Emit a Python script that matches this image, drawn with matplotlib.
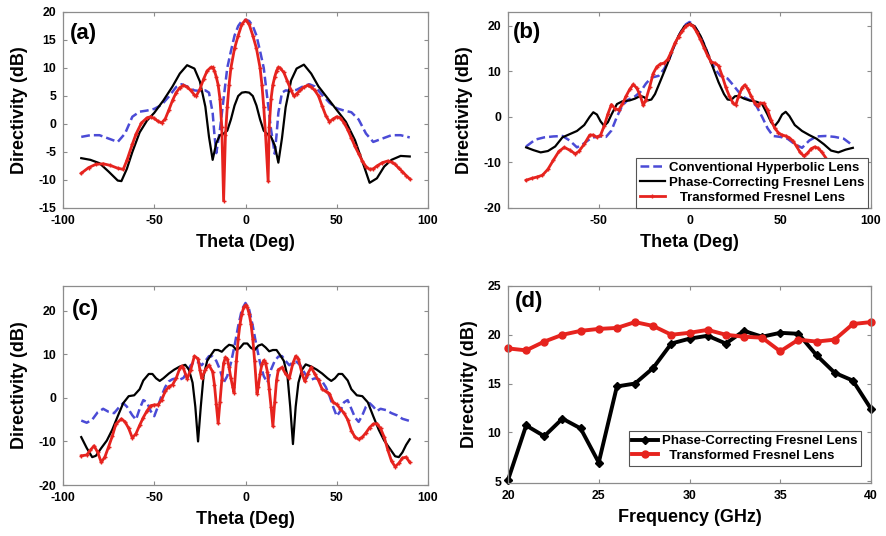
import matplotlib
matplotlib.use("Agg")
import matplotlib.pyplot as plt

plt.rcParams['font.family'] = ['Liberation Sans', 'DejaVu Sans']
plt.rcParams['font.weight'] = 'bold'
plt.rcParams['axes.labelweight'] = 'bold'
plt.rcParams['axes.unicode_minus'] = False

# ---------------- data: panel (a) ----------------
A_blk_theta = [-90,-85,-80,-75,-70,-68,-65,-62,-58,-54,-50,-45,-40,-36,-32,-28,-25,-22,-20,-18,-16,-14,-12,-10,-8,-6,-4,-2,0,
               2,4,6,8,10,12,14,16,18,20,22,25,28,32,36,40,45,50,55,60,65,68,72,76,80,85,90]
A_blk_val = [-6.1,-6.4,-7.0,-8.5,-10.1,-10.2,-8.0,-5.0,-1.5,0.6,2.0,4.2,6.7,9.0,10.5,9.9,7.6,3.1,-2.3,-6.4,-3.4,-2.0,-1.7,-1.2,0.8,3.3,5.0,5.6,5.7,
             5.6,5.0,3.3,0.8,-1.2,-1.8,-2.3,-3.8,-6.9,-2.5,3.0,7.8,9.9,10.6,9.0,6.7,4.6,2.5,0.4,-2.9,-7.6,-10.5,-9.7,-7.6,-6.4,-5.7,-5.8]

A_blu_theta = [-90,-85,-80,-75,-70,-66,-62,-58,-54,-50,-46,-42,-38,-35,-32,-28,-25,-22,-20,-18,-17,-16,-14,-12,-10,-8,-6,-4,-2,0,
               2,4,6,8,10,12,14,16,17,18,20,22,25,28,32,35,38,42,46,50,54,58,62,66,70,75,80,85,90]
A_blu_val = [-2.3,-2.0,-2.0,-2.6,-3.2,-1.7,1.3,2.2,2.4,2.7,3.4,4.9,6.6,7.1,6.7,6.0,5.9,6.0,5.6,2.0,-2.0,-5.2,-1.0,4.5,10.0,13.0,15.8,17.5,18.4,18.6,
             18.4,17.5,15.8,13.0,10.0,4.5,-1.0,-5.3,-2.0,2.0,5.6,6.0,5.9,6.1,6.8,7.1,6.7,5.2,3.8,2.8,2.4,2.1,0.8,-1.7,-3.2,-2.6,-2.0,-2.0,-2.4]

A_red_theta = [-90,-86,-82,-78,-74,-70,-67,-65,-62,-60,-57,-54,-52,-50,-48,-46,-44,-42,-40,-38,-36,-34,-32,-30,-28,-27,-25,-23,-21,-19,
               -18,-17,-16,-15,-14,-13,-12,-11,-10,-9,-8,-6,-4,-2,0,2,4,6,8,9,10,11,12.4,13,14,15,16,17,18,19,
               21,23,25,26.5,28,30,32,34,36,38,40,42,44,46,48,50,52,54,56,58,60,62,64,66,68,70,72,75,78,80,82,84,86,88,90]
A_red_val = [-8.8,-7.8,-7.2,-7.1,-7.4,-7.9,-8.1,-6.5,-3.6,-1.8,0.2,1.1,1.3,1.0,0.5,0.2,0.9,2.5,4.2,5.6,6.5,6.9,6.6,6.0,5.2,5.0,6.2,8.0,9.5,10.1,
             10.1,9.5,8.4,7.0,4.5,-0.5,-13.7,-2.0,3.0,7.0,10.0,13.5,15.8,17.8,18.6,17.8,15.8,13.5,10.0,7.0,3.0,-2.0,-10.2,-0.5,4.5,7.0,8.4,9.5,10.1,10.0,
             9.2,7.6,6.0,5.0,5.4,6.0,6.6,6.9,6.6,6.0,5.0,3.2,1.5,0.4,0.9,1.3,1.1,0.2,-1.0,-2.5,-4.0,-5.3,-6.6,-7.6,-8.1,-8.0,-7.5,-6.9,-6.6,-6.8,-7.2,-7.9,-8.5,-9.2,-9.8]

# ---------------- data: panel (b) ----------------
B_blu_theta = [-90,-85,-80,-75,-70,-66,-62,-58,-54,-50,-46,-43,-40,-37,-34,-30,-27,-24,-21,-17,-14,-11,-8,-5,-2,0,
               2,5,8,11,14,17,21,24,27,30,34,37,40,43,46,50,54,58,62,66,70,75,80,85,90]
B_blu_val = [-6.5,-5.0,-4.5,-4.3,-4.2,-5.2,-6.7,-5.8,-4.6,-4.3,-4.4,-3.0,0.0,2.5,3.7,4.5,5.5,7.3,8.6,9.0,10.5,12.8,16.0,18.5,20.3,20.8,
             20.3,18.5,16.0,13.0,10.5,9.0,8.4,7.0,5.5,4.3,3.5,2.3,0.0,-2.5,-4.2,-4.4,-4.8,-6.0,-6.8,-5.2,-4.3,-4.2,-4.4,-4.8,-6.3]

B_blk_theta = [-90,-86,-82,-78,-74,-70,-66,-62,-58,-55,-53,-51,-49,-47,-45,-43,-40,-37,-33,-30,-27,-25,-23,-21,-19,-16,-12,-9,-6,-3,0,
               3,6,9,12,16,19,21,23,25,27,30,33,37,40,43,45,47,49,51,53,55,58,62,66,70,74,78,82,86,90]
B_blk_val = [-6.7,-7.3,-7.8,-7.5,-6.5,-4.5,-3.8,-3.1,-1.8,0.0,1.0,0.5,-1.0,-2.0,-1.2,0.5,2.8,3.4,3.6,4.0,4.6,4.3,3.6,3.8,5.0,7.9,11.8,15.0,17.8,19.8,20.5,
             19.8,17.8,15.0,11.8,7.6,5.0,3.8,3.7,4.5,4.6,4.0,3.6,3.3,2.8,0.5,-1.2,-2.0,-1.0,0.5,1.1,0.2,-1.8,-3.1,-4.0,-4.8,-6.0,-7.4,-7.8,-7.2,-6.8]

B_red_theta = [-90,-87,-84,-81,-78,-75,-72,-69,-66,-63,-61,-58,-55,-53,-51,-49,-47,-45,-43,-41,-39,-37,-35,-33,-31,-29,-27,-25.5,-24,-22,
               -20,-18,-16,-14,-12,-10,-8,-6,-4,-2,0,2,4,6,8,10,12,14,16,18,20,22,24,25.5,27,29,30.5,32,34,36,37.5,
               39,41,43,45,47,49,51,53,55,57,59,61,63,65,67,69,71,73,76,80,84,87,90]
B_red_val = [-13.9,-13.5,-13.2,-12.8,-11.5,-9.5,-7.6,-6.7,-7.3,-8.1,-7.6,-6.0,-4.0,-4.0,-4.5,-4.0,-2.0,0.6,2.7,1.8,1.5,2.8,4.5,6.0,7.1,6.3,4.5,2.5,3.8,6.5,
             9.5,11.0,11.6,11.8,12.6,14.3,16.2,17.6,18.8,19.9,20.3,19.9,18.6,17.0,15.2,13.4,12.0,11.8,11.2,9.0,6.5,4.5,3.0,2.6,4.5,6.4,7.0,6.2,4.5,3.0,2.3,
             3.0,3.0,1.5,-0.8,-2.5,-3.5,-4.0,-4.2,-4.6,-5.3,-6.5,-7.8,-8.6,-8.0,-7.0,-6.6,-6.9,-7.8,-9.5,-11.5,-12.8,-13.3,-13.8]

# ---------------- data: panel (c) ----------------
C_blu_theta = [-90,-87,-84,-81,-78,-75,-72,-69,-67,-65,-62,-60,-58,-56,-54,-52,-50,-48,-46,-44,-42,-40,-38,-36,-34,
               -32,-30,-28,-26,-24,-22,-20,-18,-16,-14,-12,-10,-8,-6,-4,-2,0] + \
              [2,4,6,8,10,12,14,16,18,20,22,24,26,28,30,32,34,36,38,40,42,44,46,48,50,52,54,56,58,60,62,64,66,68,70,72,74,77,80,83,86,90]
C_blu_val = [-5.2,-5.7,-5.0,-3.3,-2.5,-3.2,-3.5,-2.0,-1.2,-2.0,-4.0,-5.0,-2.5,-0.5,-1.0,-3.0,-4.2,-2.0,0.5,2.5,3.8,4.3,4.5,4.2,4.6,
             6.0,7.5,8.3,8.2,7.5,8.5,9.6,9.5,8.5,6.5,3.5,5.0,8.0,12.0,16.5,20.3,21.8] + \
            [20.3,16.5,12.0,8.0,5.0,3.5,6.5,8.5,9.5,9.6,8.5,7.5,8.2,8.3,7.5,6.0,4.6,4.2,4.5,4.3,3.8,2.5,0.5,-2.0,-4.2,
             -3.0,-1.0,-0.5,-2.5,-4.5,-5.5,-4.0,-2.0,-1.2,-2.0,-3.0,-2.5,-2.8,-3.5,-4.0,-4.8,-5.3]

C_blk_theta = [-90,-87,-84,-82,-79,-76,-73,-70,-67,-64,-61,-58,-56,-53,-51,-49,-47,-45,-42,-39,-36,-33,-31,-29,-27.5,
               -26,-24.5,-23,-21,-19,-17,-15,-13,-11,-9,-7,-5,-3,-1,0,1,3,5,7,9,11,13,15,17,19,
               21,23,24.5,26,27.5,29,31,33,36,39,42,45,47,49,51,53,56,58,61,64,67,70,73,76,79,82,84,86,88,90]
C_blk_val = [-9.0,-11.5,-13.6,-13.3,-11.5,-9.8,-7.3,-4.2,-1.2,0.4,0.6,2.0,4.0,5.5,5.5,4.5,3.9,4.5,5.6,6.5,7.2,7.6,6.5,3.5,-2.0,
             -10.0,-2.0,5.0,8.5,9.8,11.0,11.0,10.6,11.5,12.2,12.0,11.0,11.5,12.5,12.5,12.5,11.5,11.0,12.0,12.3,11.6,10.7,11.0,11.0,9.8,
             8.5,5.0,-2.0,-10.6,-2.0,3.5,6.5,7.7,7.2,6.5,5.6,4.5,3.9,4.5,5.5,5.5,4.0,2.0,0.6,0.4,-1.0,-4.2,-7.3,-9.8,-11.6,-13.4,-13.6,-12.5,-10.8,-9.5]

C_red_theta = [-90,-87,-85,-83,-81,-79,-77,-75,-73,-71,-68,-66,-64,-62,-60,-58,-56,-54,-52,-50,-48,-46,-44,-42,-40,
               -38,-36,-35,-34,-32,-30,-28,-26,-25,-24,-22,-20,-18,-17,-16,-15,-14,-13,-12,-11,-10,-9,-8,-7,-6.3,
               -5,-4,-3,-2,-1,0] + \
              [1,2,3,4,5,6.3,7,8,9,10,11,12,13,14,15,16,17,18,20,22,24,26,27.5,29,31,32.5,34,36,38,40,
               42,44,46,48,50,52,54,56,58,60,62,64,66,68,70,72,74,76,78,80,82,84,86,88,90]
C_red_val = [-13.3,-13.1,-12.0,-11.0,-12.5,-14.8,-13.5,-11.2,-8.8,-6.0,-4.8,-5.5,-7.0,-9.2,-8.2,-6.3,-4.5,-3.0,-1.8,-1.6,-1.6,-0.5,1.5,2.6,3.0,
             4.5,6.8,7.3,6.8,4.4,6.5,9.6,9.0,6.5,4.5,6.5,7.5,6.0,3.0,-1.5,-5.8,-1.0,4.0,8.0,9.3,9.0,7.0,4.5,2.5,1.2,
             8.5,13.5,17.0,19.3,20.8,21.3] + \
            [20.8,19.3,17.0,13.5,8.5,1.0,2.5,5.5,7.8,8.6,8.0,6.0,2.0,-2.0,-6.5,-1.0,4.0,6.5,7.0,5.5,4.5,8.0,9.6,9.0,5.5,3.8,5.5,7.0,5.5,4.0,
             2.0,1.5,1.0,-1.0,-1.5,-2.5,-3.5,-5.0,-7.5,-9.0,-9.5,-9.0,-8.0,-6.8,-6.0,-5.9,-7.0,-9.0,-12.0,-14.5,-15.8,-15.0,-13.8,-13.6,-14.8]

# ---------------- data: panel (d) ----------------
D_freq = [20,21,22,23,24,25,26,27,28,29,30,31,32,33,34,35,36,37,38,39,40]
D_blk_val = [5.1,10.7,9.6,11.4,10.4,6.9,14.7,15.0,16.6,19.1,19.6,19.9,19.1,20.4,19.8,20.2,20.1,17.9,16.1,15.3,12.4]
D_red_val = [18.6,18.4,19.3,20.0,20.4,20.6,20.7,21.3,20.9,20.0,20.2,20.5,20.0,19.8,19.7,18.3,19.5,19.3,19.5,21.1,21.3]

LBL_CONV = "Conventional Hyperbolic Lens"
LBL_PHASE = "Phase-Correcting Fresnel Lens"
LBL_TRANS = "Transformed Fresnel Lens"

BLUE = '#4b4bd6'
RED = '#e6231e'
BLACK = '#000000'
GRID = '#8c8c8c'

W, H = 886, 536
fig = plt.figure(figsize=(W / 100, H / 100), dpi=100)
fig.patch.set_facecolor('white')


def mk_axes(l, t, r, b):
    return fig.add_axes([l / W, 1 - b / H, (r - l) / W, (b - t) / H])


def style(ax, xlabel):
    for s in ax.spines.values():
        s.set_color(GRID)
        s.set_linewidth(0.9)
    ax.tick_params(direction='in', length=3, color=GRID, top=True, right=True,
                   labelsize=8.8, pad=5, labelcolor='black')
    for lab in ax.get_xticklabels() + ax.get_yticklabels():
        lab.set_fontweight('bold')
    ax.set_xlabel(xlabel, fontsize=13, fontweight='bold', labelpad=5)
    ax.set_ylabel('Directivity (dB)', fontsize=13, fontweight='bold', labelpad=7)


def tag(ax, txt, x, y):
    ax.text(x, y, txt, transform=ax.transAxes, fontsize=16, fontweight='bold',
            ha='left', va='center')


def blue(ax, t, v):
    return ax.plot(t, v, color=BLUE, lw=1.8, dashes=(3.5, 1.6), label=LBL_CONV)[0]


def black(ax, t, v):
    return ax.plot(t, v, color=BLACK, lw=1.6, label=LBL_PHASE)[0]


def red(ax, t, v):
    return ax.plot(t, v, color=RED, lw=2.0, marker='+', ms=3.5, mew=1.0,
                   label='   ' + LBL_TRANS)[0]


theta_ticks = [-100, -50, 0, 50, 100]

# (a)
axa = mk_axes(63, 12, 428, 208)
blue(axa, A_blu_theta, A_blu_val)
black(axa, A_blk_theta, A_blk_val)
red(axa, A_red_theta, A_red_val)
axa.set_xlim(-100, 100)
axa.set_ylim(-15, 20)
axa.set_xticks(theta_ticks)
axa.set_yticks([-15, -10, -5, 0, 5, 10, 15, 20])
style(axa, 'Theta (Deg)')
tag(axa, '(a)', 0.018, 0.89)

# (b)
axb = mk_axes(508, 12, 871, 208)
h1 = blue(axb, B_blu_theta, B_blu_val)
h2 = black(axb, B_blk_theta, B_blk_val)
h3 = red(axb, B_red_theta, B_red_val)
axb.set_xlim(-100, 100)
axb.set_ylim(-20, 23)
axb.set_xticks(theta_ticks)
axb.set_xticklabels(['', '-50', '0', '50', '100'])
axb.set_yticks([-20, -10, 0, 10, 20])
style(axb, 'Theta (Deg)')
tag(axb, '(b)', 0.014, 0.895)
leg = axb.legend(handles=[h1, h2, h3], loc='lower right', bbox_to_anchor=(0.992, 0.0),
                 borderaxespad=0, prop={'size': 9.5, 'weight': 'bold'}, handlelength=1.9,
                 handletextpad=0.3, labelspacing=0.22, borderpad=0.3, fancybox=False,
                 framealpha=1, edgecolor='#555555')
leg.get_frame().set_linewidth(0.8)

# (c)
axc = mk_axes(63, 286, 428, 485)
blue(axc, C_blu_theta, C_blu_val)
black(axc, C_blk_theta, C_blk_val)
red(axc, C_red_theta, C_red_val)
axc.set_xlim(-100, 100)
axc.set_ylim(-20, 25.7)
axc.set_xticks(theta_ticks)
axc.set_yticks([-20, -10, 0, 10, 20])
style(axc, 'Theta (Deg)')
tag(axc, '(c)', 0.024, 0.88)

# (d)
axd = mk_axes(508, 286, 871, 483)
hd1, = axd.plot(D_freq, D_blk_val, color=BLACK, lw=2.8, marker='D', ms=4.5,
                label=LBL_PHASE, clip_on=False)
hd2, = axd.plot(D_freq, D_red_val, color=RED, lw=2.8, marker='o', ms=5,
                label='  ' + LBL_TRANS, clip_on=False)
axd.set_xlim(20, 40)
axd.set_ylim(4.8, 25)
axd.set_xticks([20, 25, 30, 35, 40])
axd.set_yticks([5, 10, 15, 20, 25])
style(axd, 'Frequency (GHz)')
tag(axd, '(d)', 0.02, 0.92)
legd = axd.legend(handles=[hd1, hd2], loc='lower right', bbox_to_anchor=(0.972, 0.086),
                  borderaxespad=0, prop={'size': 9.5, 'weight': 'bold'}, handlelength=1.9,
                  handletextpad=0.3, labelspacing=0.2, borderpad=0.3, fancybox=False,
                  framealpha=1, edgecolor='#555555')
legd.get_frame().set_linewidth(0.8)

fig.savefig('out.png', dpi=100, facecolor='white')
